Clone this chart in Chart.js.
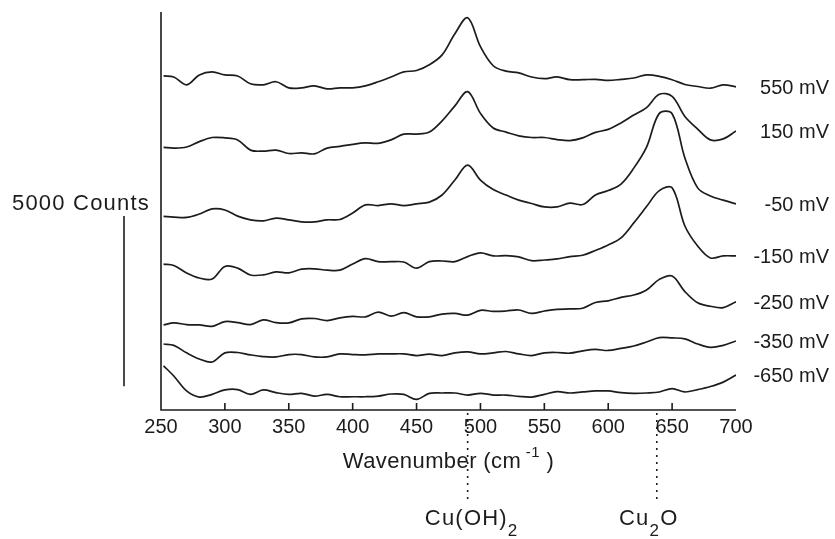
<!DOCTYPE html>
<html>
<head>
<meta charset="utf-8">
<script src="https://cdn.jsdelivr.net/npm/chart.js@4.4.0/dist/chart.umd.min.js"></script>
<style>
  html, body { margin: 0; padding: 0; background: #fff; }
</style>
</head>
<body>
<canvas id="ramanChart" width="835" height="539"></canvas>
<script>
// Raman spectra of copper at several potentials, stacked with offsets
const wavenumbers = [252, 260, 270, 280, 290, 300, 310, 320, 330, 340, 350, 360, 370, 380, 390, 400,
  410, 420, 430, 440, 450, 460, 470, 480, 490, 500, 510, 520, 530, 540, 550, 560, 570, 580, 590, 600,
  610, 620, 630, 640, 650, 660, 670, 680, 690, 700];

const potentials = ["550 mV", "150 mV", "-50 mV", "-150 mV", "-250 mV", "-350 mV", "-650 mV"];
const offsets = [9500, 7900, 5900, 4200, 2600, 1650, 500];   // counts

// intensity above each trace's offset (counts)
const counts550 = [320, 290, 60, 350, 440, 350, 320, 90, 60, 150, -30, -30, 30, -60, -30, -30,
  30, 150, 290, 440, 480, 650, 940, 1560, 2030, 1180, 620, 460, 410, 290, 240, 290, 210, 210, 220, 190,
  220, 260, 350, 310, 210, 70, 10, -40, 60, 0];
const counts150 = [-180, -200, -170, -10, 110, 100, 40, -260, -290, -260, -360, -340, -370, -200, -150, -90,
  -50, -60, 40, 210, 210, 270, 600, 1040, 1460, 820, 390, 270, 160, 110, 110, 50, 20, 100, 260, 350,
  540, 770, 990, 1380, 1320, 730, 360, 40, 70, 300];
const countsM50 = [-210, -230, -240, -140, 10, -20, -200, -310, -340, -260, -310, -370, -370, -310, -300, -110,
  130, 110, 160, 110, 160, 210, 420, 860, 1300, 860, 580, 420, 270, 170, 70, 70, 180, 140, 420, 550,
  740, 1210, 1830, 2820, 2810, 1510, 630, 390, 270, 160];
const countsM150 = [90, 50, -170, -320, -350, 20, -30, -230, -230, -140, -170, -60, -50, -90, -90, 90,
  250, 160, 160, 150, -30, 160, 180, 160, 310, 420, 330, 340, 300, 190, 210, 240, 310, 350, 490, 650,
  860, 1300, 1780, 2250, 2330, 1210, 620, 270, 330, 330];
const countsM250 = [-100, -40, -90, -100, -140, 0, -30, -90, 50, -30, -40, 80, 90, 30, 110, 150,
  140, 280, 160, 260, 140, 140, 220, 240, 190, 330, 300, 310, 340, 240, 310, 360, 370, 390, 560, 610,
  710, 780, 930, 1240, 1340, 880, 550, 450, 410, 580];
const countsM350 = [290, 250, 30, -150, -240, 30, 40, -30, -80, -90, -20, -20, -90, -90, 0, -20,
  -30, 0, 0, 0, -50, -10, -50, 30, 60, 0, 30, 70, 0, -50, 30, 40, 20, 90, 130, 100,
  160, 230, 350, 480, 470, 440, 290, 190, 250, 380];
const countsM650 = [800, 500, 60, -120, -40, 90, 100, -40, 90, 10, -40, -10, -90, -40, -110, -110,
  -110, -90, -30, -40, -190, -10, 0, 0, -60, -10, -60, -60, -100, -120, -40, 40, 0, 30, 60, 60,
  10, -10, 0, 30, 130, 30, 100, 190, 320, 530];
const spectra = [counts550, counts150, countsM50, countsM150, countsM250, countsM350, countsM650];

const xTickValues = [250, 300, 350, 400, 450, 500, 550, 600, 650, 700];
const scaleBarCounts = 5000;
const scaleBarBase = 700;

// band assignments marked under the axis
const peakPositions = [490, 638];
const peakLabels = [[["Cu(OH)", false], ["2", true]], [["Cu", false], ["2", true], ["O", false]]];

const ink = "#1c1c1c";
const family = '"Liberation Sans", Arial, Helvetica, sans-serif';

const datasets = spectra.map((s, k) => ({
  label: potentials[k],
  data: wavenumbers.map((w, i) => ({ x: w, y: offsets[k] + s[i] })),
  borderColor: ink,
  borderWidth: 1.7,
  pointRadius: 0,
  tension: 0.35,
  fill: false
}));

function drawRich(ctx, parts, cx, baseline, size, subSize, spacing) {
  ctx.letterSpacing = spacing + "px";
  let total = 0;
  parts.forEach(p => {
    ctx.font = (p[1] ? subSize : size) + "px " + family;
    total += ctx.measureText(p[0]).width;
  });
  let x = cx - total / 2;
  ctx.textAlign = "left";
  parts.forEach(p => {
    ctx.font = (p[1] ? subSize : size) + "px " + family;
    ctx.fillText(p[0], x, p[1] ? baseline + 11 : baseline);
    x += ctx.measureText(p[0]).width;
  });
  ctx.letterSpacing = "0px";
}

const figureExtras = {
  id: "figureExtras",
  afterDraw(chart) {
    const ctx = chart.ctx;
    const xs = chart.scales.x, ys = chart.scales.y;
    const a = chart.chartArea;
    ctx.save();
    ctx.strokeStyle = ink;
    ctx.fillStyle = ink;
    ctx.lineWidth = 1.6;

    // axes and inward ticks
    ctx.beginPath();
    ctx.moveTo(a.left, a.top);
    ctx.lineTo(a.left, a.bottom);
    ctx.lineTo(a.right, a.bottom);
    xTickValues.forEach(v => {
      if (v > xs.min && v < xs.max) {
        const px = xs.getPixelForValue(v);
        ctx.moveTo(px, a.bottom);
        ctx.lineTo(px, a.bottom - 7);
      }
    });
    ctx.stroke();

    // scale bar
    ctx.beginPath();
    ctx.moveTo(124, ys.getPixelForValue(scaleBarBase));
    ctx.lineTo(124, ys.getPixelForValue(scaleBarBase + scaleBarCounts));
    ctx.stroke();
    ctx.textAlign = "left";
    ctx.textBaseline = "alphabetic";
    ctx.font = "22px " + family;
    ctx.letterSpacing = "1.2px";
    ctx.fillText("5000 Counts", 12, 210);
    ctx.letterSpacing = "0px";

    // potential labels at the right end of each trace
    ctx.font = "20px " + family;
    ctx.textAlign = "right";
    spectra.forEach((s, k) => {
      const py = ys.getPixelForValue(offsets[k] + s[s.length - 1]);
      ctx.fillText(potentials[k], 829, py + 7);
    });

    // axis title with superscript
    const title = [["Wavenumber (cm", false], [" -1", "sup"], [" )", false]];
    ctx.letterSpacing = "0.4px";
    let w = 0;
    title.forEach(p => {
      ctx.font = (p[1] ? 15 : 22) + "px " + family;
      w += ctx.measureText(p[0]).width;
    });
    let tx = (a.left + a.right) / 2 - w / 2;
    ctx.textAlign = "left";
    title.forEach(p => {
      ctx.font = (p[1] ? 15 : 22) + "px " + family;
      ctx.fillText(p[0], tx, p[1] ? 457 : 468);
      tx += ctx.measureText(p[0]).width;
    });
    ctx.letterSpacing = "0px";

    // dotted markers and band names
    ctx.setLineDash([2, 5]);
    const shifts = [4, -8];
    peakPositions.forEach((p, i) => {
      const px = xs.getPixelForValue(p);
      ctx.beginPath();
      ctx.moveTo(px, a.bottom + 3);
      ctx.lineTo(px, 500);
      ctx.stroke();
      drawRich(ctx, peakLabels[i], px + shifts[i], 525, 22, 17, 1.2);
    });
    ctx.restore();
  }
};

new Chart("ramanChart", {
  type: "line",
  data: { datasets: datasets },
  options: {
    responsive: false,
    animation: false,
    devicePixelRatio: 1,
    layout: { padding: { left: 161, right: 99, top: 12, bottom: 0 } },
    plugins: { legend: { display: false }, tooltip: { enabled: false } },
    scales: {
      x: {
        type: "linear",
        min: 250,
        max: 700,
        afterBuildTicks: s => { s.ticks = xTickValues.map(v => ({ value: v })); },
        afterFit: s => { s.height = 129; s.paddingLeft = 0; s.paddingRight = 0; },
        grid: { display: false, drawTicks: false },
        border: { display: false },
        ticks: { color: ink, font: { family: family, size: 20 }, padding: 5, maxRotation: 0, autoSkip: false }
      },
      y: { display: false, min: 0, max: 11700 }
    }
  },
  plugins: [figureExtras]
});
</script>
</body>
</html>
